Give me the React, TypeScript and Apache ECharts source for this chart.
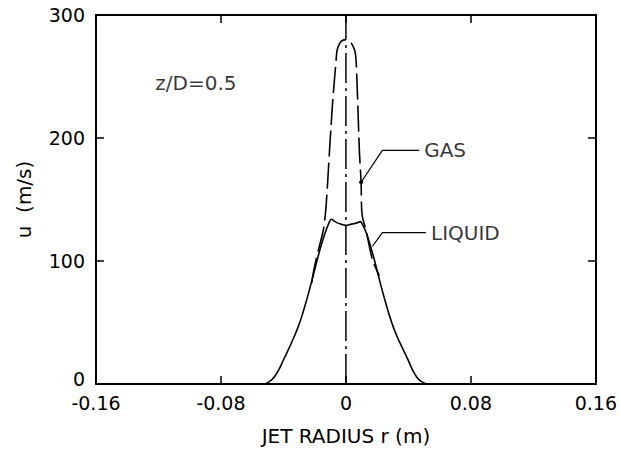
import React, { useEffect, useRef } from "react";
import * as echarts from "echarts";

const xTicks = ["-0.16", "-0.08", "0", "0.08", "0.16"];
const yTicks = ["0", "100", "200", "300"];

const gasR = [-0.022, -0.02, -0.017, -0.0145, -0.013, -0.0116, -0.0105, -0.0095, -0.0084, -0.0073, -0.0063, -0.0057, -0.004, -0.002, 0, 0.002, 0.004, 0.0057, 0.0065, 0.0075, 0.0086, 0.0097, 0.0103, 0.0129, 0.017, 0.0214];
const gasU = [82, 96, 112, 125, 140, 166, 190, 210, 231, 248, 263, 271, 277, 279.5, 280, 279.5, 276, 271, 263, 231, 190, 164, 138, 125, 101, 88];

const liquidR = [-0.052, -0.049, -0.046, -0.043, -0.04, -0.037, -0.034, -0.031, -0.028, -0.025, -0.022, -0.019, -0.016, -0.013, -0.0105, -0.0093, -0.007, -0.0035, 0, 0.0035, 0.007, 0.0091, 0.0105, 0.013, 0.016, 0.019, 0.022, 0.025, 0.028, 0.031, 0.034, 0.037, 0.04, 0.043, 0.046, 0.049, 0.052];
const liquidU = [0, 2, 5.5, 11.5, 19.5, 27.5, 36, 45, 56, 69, 83, 98, 112, 124, 132, 134, 132, 130, 129, 130, 131, 132, 130, 123, 111, 97, 82, 68, 55, 44, 35, 27, 19, 10.5, 4.5, 1.5, 0];

const axisCenterR = [0, 0, 0];
const axisCenterU = [0, 280, 300];

const gasLeaderR = [0.0097, 0.0233, 0.047];
const gasLeaderU = [164, 190, 190];
const liquidLeaderR = [0.017, 0.0233, 0.0512];
const liquidLeaderU = [112, 123, 123];

const labelTexts = ["GAS", "LIQUID", "z/D=0.5"];
const labelR = [0.0501, 0.0545, -0.122];
const labelU = [190, 123, 244.5];

const FONT = "DejaVu Sans";
const zip = (a: number[], b: number[]) => a.map((v, i) => [v, b[i]]);

export default function App() {
  const ref = useRef<HTMLDivElement>(null);
  useEffect(() => {
    if (!ref.current) return;
    const chart = echarts.init(ref.current, null, { renderer: "svg" });
    const tickStyle = { show: true, inside: true, length: 8, lineStyle: { color: "#000", width: 1.5 } };
    const lineAx = { show: true, onZero: false, lineStyle: { color: "#000", width: 2 } };
    chart.setOption({
      animation: false,
      backgroundColor: "#fff",
      grid: { left: 96, right: 23, top: 15, bottom: 66, containLabel: false },
      xAxis: [
        {
          type: "value", min: -0.16, max: 0.16, interval: 0.08, position: "bottom",
          axisLine: lineAx, axisTick: tickStyle, splitLine: { show: false },
          axisLabel: {
            color: "#000", fontFamily: FONT, fontSize: 19, margin: 9,
            formatter: (v: number) => xTicks[Math.round((v + 0.16) / 0.08)] ?? "",
          },
          name: "JET RADIUS r (m)", nameLocation: "middle", nameGap: 42,
          nameTextStyle: { color: "#000", fontFamily: FONT, fontSize: 20 },
        },
        {
          type: "value", min: -0.16, max: 0.16, interval: 0.08, position: "top",
          axisLine: lineAx, axisTick: tickStyle, splitLine: { show: false }, axisLabel: { show: false },
        },
      ],
      yAxis: [
        {
          type: "value", min: 0, max: 300, interval: 100, position: "left",
          axisLine: lineAx, axisTick: tickStyle, splitLine: { show: false },
          axisLabel: {
            color: "#000", fontFamily: FONT, fontSize: 19, margin: 11,
            formatter: (v: number) => {
              const t = yTicks[Math.round(v / 100)] ?? "";
              return v === 0 ? "{z|" + t + "}" : t;
            },
            rich: { z: { fontFamily: FONT, fontSize: 19, color: "#000", padding: [0, 0, 10, 0] } },
          },
          name: "u  (m/s)", nameLocation: "middle", nameGap: 62, nameRotate: 90,
          nameTextStyle: { color: "#000", fontFamily: FONT, fontSize: 20 },
        },
        {
          type: "value", min: 0, max: 300, interval: 100, position: "right",
          axisLine: lineAx, axisTick: tickStyle, splitLine: { show: false }, axisLabel: { show: false },
        },
      ],
      series: [
        {
          type: "line", data: zip(axisCenterR, axisCenterU).slice(0, 2), symbol: "none",
          lineStyle: { color: "#000", width: 1.5, type: [30, 5, 3, 5] },
        },
        {
          type: "line", data: zip(axisCenterR, axisCenterU).slice(1), symbol: "none",
          lineStyle: { color: "#000", width: 1.5 },
        },
        {
          type: "line", data: zip(gasR, gasU), symbol: "none", smooth: 0.3,
          lineStyle: { color: "#000", width: 1.6, type: [26, 6] },
        },
        {
          type: "line", data: zip(liquidR, liquidU), symbol: "none", smooth: 0.4,
          lineStyle: { color: "#000", width: 1.6 },
        },
        {
          type: "line", data: zip(gasLeaderR, gasLeaderU).map((p, i) => i === 0 ? { value: p, symbol: "circle", symbolSize: 4 } : { value: p, symbol: "none" }),
          itemStyle: { color: "#000" },
          lineStyle: { color: "#000", width: 1.2 },
        },
        {
          type: "line", data: zip(liquidLeaderR, liquidLeaderU), symbol: "none",
          lineStyle: { color: "#000", width: 1.2 },
        },
        {
          type: "scatter", symbolSize: 0,
          data: labelTexts.map((t, i) => ({ value: [labelR[i], labelU[i]], name: t })),
          label: {
            show: true, position: [0, 0], align: "left", verticalAlign: "middle",
            color: "#000", fontFamily: FONT, fontSize: 20,
            formatter: (p: any) => p.name,
          },
        },
      ],
    });
    return () => chart.dispose();
  }, []);
  return <div ref={ref} style={{ width: 620, height: 451, position: "absolute", left: 0, top: 0 }} />;
}
